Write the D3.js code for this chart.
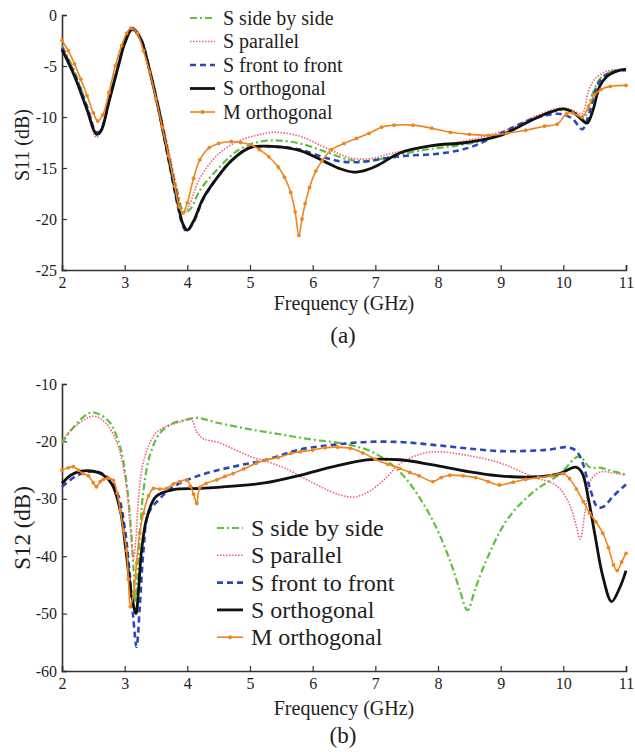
<!DOCTYPE html>
<html>
<head>
<meta charset="utf-8">
<script src="https://cdn.jsdelivr.net/npm/d3@7/dist/d3.min.js"></script>
<style>
    body { margin: 0; background: white; }
</style>
</head>
<body>
<script>
(function () {
    "use strict";

    // DATA  [frequency GHz, dB]
    var seriesNames = ["S side by side", "S parallel", "S front to front", "S orthogonal", "M orthogonal"];
    var xTicks = [2, 3, 4, 5, 6, 7, 8, 9, 10, 11];
    var s11Ticks = [0, -5, -10, -15, -20, -25];
    var s12Ticks = [-10, -20, -30, -40, -50, -60];

    var s11Side = [[2.0,-3.0],[2.2,-5.5],[2.4,-9.0],[2.55,-11.6],[2.62,-11.2],[2.75,-8.2],[2.9,-4.8],[3.0,-2.6],[3.12,-1.3],[3.25,-2.2],[3.4,-5.3],[3.55,-9.2],[3.7,-13.5],[3.85,-17.5],[3.95,-19.4],[4.05,-19.0],[4.2,-17.2],[4.5,-15.0],[4.8,-13.3],[5.1,-12.5],[5.4,-12.3],[5.8,-12.6],[6.2,-13.4],[6.6,-14.2],[6.9,-14.3],[7.3,-13.8],[7.8,-13.2],[8.3,-12.8],[8.8,-12.2],[9.2,-11.2],[9.6,-10.0],[10.0,-9.3],[10.2,-9.7],[10.32,-10.2],[10.45,-8.0],[10.58,-6.3],[10.75,-5.6],[11.0,-5.3]];
    var s11Par = [[2.0,-3.0],[2.2,-5.8],[2.4,-9.5],[2.55,-12.0],[2.62,-11.3],[2.75,-8.2],[2.9,-4.7],[3.0,-2.5],[3.12,-1.2],[3.25,-2.1],[3.4,-5.2],[3.55,-9.0],[3.7,-13.2],[3.85,-17.5],[3.93,-19.5],[4.02,-18.8],[4.2,-16.0],[4.5,-13.6],[4.8,-12.4],[5.1,-11.8],[5.4,-11.5],[5.8,-11.9],[6.2,-13.0],[6.6,-14.0],[6.9,-14.1],[7.3,-13.5],[7.8,-12.9],[8.3,-12.5],[8.8,-11.8],[9.2,-11.0],[9.6,-9.8],[10.0,-9.1],[10.2,-9.5],[10.3,-9.7],[10.4,-7.5],[10.5,-6.3],[10.7,-5.5],[11.0,-5.3]];
    var s11Front = [[2.0,-3.2],[2.2,-5.8],[2.4,-9.0],[2.55,-11.5],[2.62,-11.3],[2.75,-8.4],[2.9,-4.9],[3.0,-2.7],[3.12,-1.3],[3.25,-2.2],[3.4,-5.4],[3.55,-9.5],[3.7,-14.2],[3.85,-18.8],[3.93,-20.7],[3.99,-21.2],[4.1,-20.3],[4.25,-18.1],[4.47,-16.0],[4.7,-14.3],[5.0,-13.0],[5.4,-12.9],[5.8,-13.2],[6.2,-14.0],[6.5,-14.4],[6.8,-14.4],[7.1,-14.1],[7.5,-13.8],[8.0,-13.6],[8.5,-13.0],[9.0,-11.6],[9.5,-10.2],[9.95,-9.7],[10.15,-10.2],[10.3,-11.2],[10.42,-9.5],[10.55,-6.8],[10.7,-5.8],[10.85,-5.5],[11.0,-5.4]];
    var s11Orth = [[2.0,-3.4],[2.2,-6.0],[2.4,-9.3],[2.55,-11.7],[2.62,-11.4],[2.75,-8.5],[2.9,-5.0],[3.0,-2.8],[3.12,-1.4],[3.25,-2.3],[3.4,-5.5],[3.55,-9.5],[3.7,-14.0],[3.85,-18.5],[3.93,-20.5],[4.0,-21.1],[4.1,-20.2],[4.25,-18.0],[4.47,-16.0],[4.7,-14.3],[5.0,-13.0],[5.4,-12.9],[5.8,-13.3],[6.2,-14.4],[6.45,-15.1],[6.65,-15.4],[6.85,-15.2],[7.05,-14.7],[7.4,-13.5],[7.9,-12.8],[8.45,-12.5],[9.0,-11.8],[9.5,-10.3],[9.8,-9.5],[10.0,-9.2],[10.15,-9.5],[10.3,-10.3],[10.38,-10.6],[10.47,-9.4],[10.58,-7.0],[10.7,-6.0],[10.85,-5.5],[11.0,-5.3]];
    var s11M = [[2.0,-2.5],[2.1,-3.5],[2.2,-4.8],[2.3,-6.3],[2.4,-7.9],[2.5,-9.6],[2.57,-10.4],[2.65,-9.8],[2.75,-7.6],[2.85,-5.0],[2.95,-3.0],[3.03,-1.8],[3.1,-1.3],[3.2,-1.8],[3.3,-3.5],[3.4,-5.6],[3.5,-8.2],[3.6,-11.0],[3.7,-13.8],[3.8,-16.8],[3.87,-18.8],[3.93,-19.4],[4.0,-18.4],[4.1,-16.0],[4.2,-14.2],[4.35,-13.0],[4.5,-12.6],[4.7,-12.4],[4.85,-12.5],[5.0,-12.7],[5.15,-13.2],[5.3,-13.9],[5.45,-14.9],[5.55,-15.9],[5.65,-17.4],[5.72,-19.3],[5.78,-21.6],[5.83,-20.0],[5.88,-18.5],[5.95,-16.9],[6.05,-15.3],[6.15,-14.3],[6.3,-13.2],[6.5,-12.6],[6.7,-12.1],[6.9,-11.6],[7.1,-11.0],[7.3,-10.8],[7.6,-10.8],[7.9,-11.1],[8.2,-11.5],[8.5,-11.7],[8.8,-11.8],[9.1,-11.6],[9.4,-11.3],[9.7,-10.9],[9.9,-10.7],[10.05,-9.7],[10.15,-9.6],[10.3,-10.0],[10.4,-9.0],[10.5,-7.8],[10.6,-7.3],[10.75,-7.0],[11.0,-6.9]];

    var s12Side = [[2.0,-20.3],[2.2,-17.3],[2.45,-15.0],[2.6,-15.3],[2.77,-16.8],[2.9,-20.0],[2.98,-23.5],[3.05,-29],[3.1,-35],[3.14,-42],[3.17,-48],[3.2,-44],[3.25,-35],[3.3,-28.5],[3.4,-22.5],[3.56,-18.6],[3.78,-16.8],[4.0,-16.2],[4.15,-15.9],[4.5,-16.8],[5.0,-17.9],[5.5,-18.8],[6.0,-19.7],[6.5,-20.4],[6.9,-21.6],[7.2,-23.5],[7.45,-26],[7.7,-29.7],[7.95,-34.5],[8.2,-41],[8.35,-46],[8.47,-49.4],[8.6,-45.5],[8.8,-40],[9.1,-33.7],[9.5,-29],[9.95,-25.6],[10.25,-22.6],[10.42,-24.5],[10.6,-24.6],[10.8,-25.2],[11.0,-25.8]];
    var s12Par = [[2.0,-19.8],[2.2,-17.5],[2.5,-15.6],[2.7,-16.8],[2.85,-19.5],[2.95,-23],[3.03,-28],[3.09,-35],[3.14,-40.5],[3.18,-37],[3.22,-30],[3.28,-24.5],[3.38,-20.8],[3.5,-18.5],[3.7,-17.2],[3.9,-16.6],[4.05,-16.0],[4.15,-18.3],[4.25,-19.5],[4.5,-20.2],[5.0,-22.6],[5.5,-24.4],[6.0,-27.2],[6.35,-29],[6.65,-29.7],[6.9,-28.7],[7.15,-26.6],[7.4,-23.8],[7.7,-22.3],[7.95,-21.8],[8.45,-22.4],[9.0,-23.8],[9.5,-26.1],[9.9,-27.8],[10.1,-31],[10.2,-34.5],[10.27,-37],[10.35,-32],[10.45,-26.5],[10.6,-25.3],[10.8,-25.5],[11.0,-25.9]];
    var s12Front = [[2.0,-27.9],[2.2,-26.2],[2.4,-25.3],[2.6,-25.4],[2.75,-26.5],[2.9,-29.5],[3.0,-35],[3.08,-43],[3.14,-51],[3.19,-55.8],[3.24,-49],[3.3,-39],[3.38,-32.5],[3.56,-30.0],[3.78,-27.9],[4.2,-25.9],[4.73,-24.4],[5.26,-23.2],[5.8,-21.4],[6.33,-20.6],[6.86,-20.1],[7.39,-20.1],[7.92,-20.6],[8.45,-21.2],[9.0,-21.7],[9.52,-21.6],[9.8,-21.4],[10.05,-21.0],[10.2,-21.6],[10.3,-23.5],[10.42,-28],[10.55,-31.5],[10.65,-31.3],[10.8,-29.5],[11.0,-27.5]];
    var s12Orth = [[2.0,-27.3],[2.15,-25.8],[2.3,-25.2],[2.5,-25.2],[2.65,-25.8],[2.8,-27.5],[2.93,-32],[3.02,-39],[3.1,-46],[3.18,-50],[3.22,-46],[3.27,-39],[3.35,-33.5],[3.5,-29.6],[3.78,-28.4],[4.2,-28.2],[4.73,-27.8],[5.26,-27.2],[5.8,-25.9],[6.33,-24.4],[6.86,-23.2],[7.39,-23.2],[7.92,-24.1],[8.45,-25.2],[8.98,-26.0],[9.52,-26.2],[9.94,-25.6],[10.2,-24.5],[10.3,-25.5],[10.4,-30],[10.5,-36],[10.63,-43.5],[10.77,-47.9],[10.9,-45.5],[11.0,-42.5]];
    var s12M = [[2.0,-25.0],[2.1,-24.6],[2.18,-24.4],[2.26,-25.0],[2.34,-25.6],[2.42,-26.0],[2.5,-27.2],[2.55,-27.9],[2.61,-27.0],[2.66,-26.6],[2.74,-26.4],[2.82,-26.8],[2.88,-29.0],[2.93,-32],[2.98,-35.5],[3.03,-39],[3.06,-44],[3.09,-48.8],[3.14,-46.5],[3.19,-41.2],[3.24,-36],[3.3,-32.5],[3.38,-29.5],[3.46,-28.2],[3.56,-28.3],[3.67,-28.2],[3.78,-27.4],[3.88,-27.0],[3.99,-26.7],[4.05,-27.8],[4.1,-29.2],[4.15,-30.8],[4.2,-28.0],[4.3,-27.3],[4.47,-26.7],[4.6,-26.1],[4.73,-25.6],[4.9,-24.8],[5.1,-23.8],[5.26,-23.2],[5.45,-22.8],[5.65,-22.1],[5.8,-21.8],[6.0,-21.5],[6.2,-21.1],[6.4,-21.0],[6.6,-21.2],[6.8,-22.0],[7.0,-23.1],[7.2,-24.0],[7.39,-24.7],[7.55,-25.4],[7.7,-26.0],[7.92,-27.0],[8.05,-26.3],[8.19,-25.9],[8.4,-26.0],[8.6,-26.3],[8.8,-27.0],[8.98,-27.6],[9.2,-27.1],[9.4,-26.6],[9.6,-26.3],[9.8,-26.0],[10.0,-25.6],[10.1,-26.5],[10.21,-28.3],[10.32,-30.5],[10.42,-32.5],[10.52,-34.0],[10.63,-36.0],[10.72,-38.5],[10.8,-41.5],[10.86,-42.5],[10.93,-41.0],[11.0,-39.5]];

    // line styles, same order as seriesNames
    var styles = [
        {color: "#5cc23a", width: 2.2, dash: "7,3,2,3"},
        {color: "#f0607a", width: 1.6, dash: "1.5,1.5"},
        {color: "#2c48b8", width: 2.6, dash: "6,4"},
        {color: "#111111", width: 2.8, dash: null},
        {color: "#f0841e", width: 1.6, dash: null, marker: true}
    ];

    var FONT = "'Liberation Serif'";

    var svg = d3.select("body").append("svg")
        .attr("width", 635)
        .attr("height", 752);

    function label(sel, size) {
        return sel.style("font-family", FONT).attr("font-size", size).attr("fill", "#1e1e1e");
    }

    function drawPanel(p) {
        var x = d3.scaleLinear().domain([2, 11]).range([62, 626]);
        var y = d3.scaleLinear().domain(p.yDomain).range(p.yRange);
        var g = svg.append("g");

        // axes: left and bottom only, ticks pointing inward
        var xAxis = d3.axisBottom(x).tickValues(xTicks).tickSize(-5).tickPadding(7).tickFormat(d3.format("d"));
        var yAxis = d3.axisLeft(y).tickValues(p.yTicks).tickSize(-5).tickPadding(5).tickFormat(function (d) { return d; });

        var gx = g.append("g").attr("transform", "translate(0," + p.yRange[0] + ")").call(xAxis);
        var gy = g.append("g").attr("transform", "translate(62,0)").call(yAxis);
        [gx, gy].forEach(function (a) {
            a.select(".domain").attr("stroke", "#333").attr("stroke-width", 1.6);
            a.selectAll(".tick line").attr("stroke", "#333").attr("stroke-width", 1.2);
            label(a.selectAll(".tick text"), p.tickSize);
        });

        var line = d3.line()
            .x(function (d) { return x(d[0]); })
            .y(function (d) { return y(d[1]); })
            .curve(d3.curveCatmullRom.alpha(0.5));

        p.series.forEach(function (data, i) {
            var s = styles[i];
            g.append("path")
                .datum(data)
                .attr("d", line)
                .attr("fill", "none")
                .attr("stroke", s.color)
                .attr("stroke-width", s.width)
                .attr("stroke-dasharray", s.dash)
                .attr("stroke-linejoin", "round");
            if (s.marker) {
                g.selectAll(null).data(data).enter().append("circle")
                    .attr("cx", function (d) { return x(d[0]); })
                    .attr("cy", function (d) { return y(d[1]); })
                    .attr("r", 1.9)
                    .attr("fill", s.color);
            }
        });

        // legend
        var lg = g.append("g").attr("transform", "translate(" + p.legend.x + "," + p.legend.y + ")");
        seriesNames.forEach(function (name, i) {
            var s = styles[i];
            var row = lg.append("g").attr("transform", "translate(0," + (i * p.legend.step) + ")");
            row.append("line")
                .attr("x1", 0).attr("x2", p.legend.len)
                .attr("y1", 0).attr("y2", 0)
                .attr("stroke", s.color)
                .attr("stroke-width", s.width)
                .attr("stroke-dasharray", s.dash);
            if (s.marker) {
                row.append("circle").attr("cx", p.legend.len / 2).attr("cy", 0).attr("r", 2).attr("fill", s.color);
            }
            label(row.append("text"), p.legend.size)
                .attr("x", p.legend.len + 8)
                .attr("y", 0)
                .attr("dy", "0.33em")
                .text(name);
        });

        // titles
        label(g.append("text"), p.yLabelSize)
            .attr("transform", "translate(22," + p.yLabelY + ") rotate(-90)")
            .attr("text-anchor", "middle")
            .attr("dy", "0.33em")
            .text(p.yLabel);
        label(g.append("text"), 20)
            .attr("x", 344)
            .attr("y", p.yRange[0] + p.xLabelDy)
            .attr("dy", "0.33em")
            .attr("text-anchor", "middle")
            .text("Frequency (GHz)");
        label(g.append("text"), 23)
            .attr("x", 343)
            .attr("y", p.yRange[0] + p.captionDy)
            .attr("dy", "0.33em")
            .attr("text-anchor", "middle")
            .text(p.caption);
    }

    drawPanel({
        yDomain: [-25, 0], yRange: [270, 15], yTicks: s11Ticks, tickSize: 16,
        series: [s11Side, s11Par, s11Front, s11Orth, s11M],
        legend: {x: 190, y: 18, step: 23.5, len: 25, size: 20},
        yLabel: "S11 (dB)", yLabelY: 145, yLabelSize: 20,
        xLabelDy: 33, captionDy: 65, caption: "(a)"
    });

    drawPanel({
        yDomain: [-60, -10], yRange: [671, 384], yTicks: s12Ticks, tickSize: 16,
        series: [s12Side, s12Par, s12Front, s12Orth, s12M],
        legend: {x: 217, y: 528, step: 27.3, len: 26, size: 24},
        yLabel: "S12 (dB)", yLabelY: 528, yLabelSize: 23,
        xLabelDy: 37, captionDy: 64, caption: "(b)"
    });
})();
</script>
</body>
</html>
